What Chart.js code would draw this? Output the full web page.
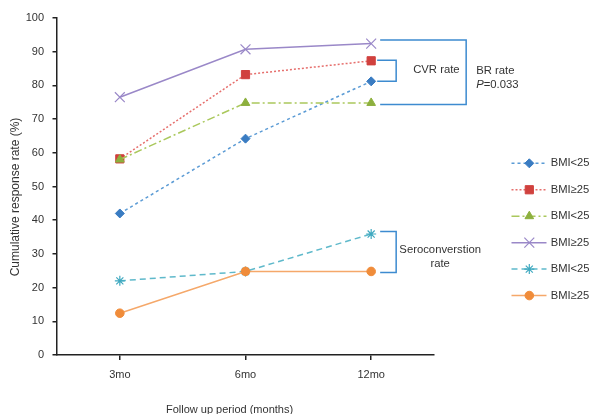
<!DOCTYPE html>
<html>
<head>
<meta charset="utf-8">
<script src="https://cdn.jsdelivr.net/npm/chart.js@4/dist/chart.umd.min.js"></script>
<style>
  html, body { margin: 0; padding: 0; background: #ffffff; }
  #wrap { width: 597px; height: 414px; }
</style>
</head>
<body>
<div id="wrap"><canvas id="c" width="597" height="414"></canvas></div>
<script>
// ---- data ----
const categories = ['3mo', '6mo', '12mo'];
const cvrBmiLow  = [42.0, 64.2, 81.2];
const cvrBmiHigh = [58.2, 83.2, 87.3];
const brBmiLow   = [58.0, 74.8, 74.8];
const brBmiHigh  = [76.5, 90.7, 92.4];
const seroBmiLow = [22.0, 24.8, 35.9];
const seroBmiHigh= [12.4, 24.8, 24.8];
const seriesLabels = ['BMI<25', 'BMI\u226525', 'BMI<25', 'BMI\u226525', 'BMI<25', 'BMI\u226525'];
const yTickValues = [0, 10, 20, 30, 40, 50, 60, 70, 80, 90, 100];
const yTitle = 'Cumulative response rate (%)';
const xTitle = 'Follow up period (months)';
const noteCVR = 'CVR rate';
const noteBR = 'BR rate';
const noteP = '0.033';
const noteSero = ['Seroconverstion', 'rate'];

const FONT = "'Liberation Sans', Arial, sans-serif";
const TXT = '#333333';
const BRACKET = '#3d8bd0';

const styles = [
  { line: '#5b9bd5', mark: '#3a7cc2', dash: [3, 3], ps: 'rectRot', r: 4.5 },
  { line: '#e66f6d', mark: '#d0413e', dash: [2, 2], ps: 'rect', r: 5.8 },
  { line: '#aac85c', mark: '#8db03e', dash: [8, 3, 2, 3], ps: 'triangle', r: 5 },
  { line: '#9a88c8', mark: '#9a88c8', dash: [], ps: 'crossRot', r: 7 },
  { line: '#5fb9cb', mark: '#3fa9c0', dash: [6, 4], ps: 'star', r: 5 },
  { line: '#f5a86a', mark: '#f08c3a', dash: [], ps: 'circle', r: 4.3 }
];
const seriesData = [cvrBmiLow, cvrBmiHigh, brBmiLow, brBmiHigh, seroBmiLow, seroBmiHigh];

const datasets = seriesData.map((d, i) => ({
  label: seriesLabels[i],
  data: d,
  borderColor: styles[i].line,
  borderWidth: 1.5,
  borderDash: styles[i].dash,
  pointStyle: styles[i].ps,
  pointRadius: styles[i].r,
  pointHoverRadius: styles[i].r,
  pointBackgroundColor: styles[i].mark,
  pointBorderColor: styles[i].mark,
  pointBorderWidth: (styles[i].ps === 'crossRot' || styles[i].ps === 'star') ? 1.2 : 1,
  fill: false,
  tension: 0,
  order: 6 - i
}));

const extras = {
  id: 'extras',
  afterDraw(chart) {
    const ctx = chart.ctx;
    const xs = chart.scales.x, ys = chart.scales.y;
    const x12 = xs.getPixelForValue(2);
    ctx.save();
    // brackets
    ctx.strokeStyle = BRACKET;
    ctx.lineWidth = 1.5;
    ctx.setLineDash([]);
    const bracket = (x0, x1, yTop, yBot) => {
      ctx.beginPath();
      ctx.moveTo(x0, yTop); ctx.lineTo(x1, yTop); ctx.lineTo(x1, yBot); ctx.lineTo(x0, yBot);
      ctx.stroke();
    };
    bracket(x12 + 6, x12 + 25, ys.getPixelForValue(cvrBmiHigh[2]) - 0.5, ys.getPixelForValue(cvrBmiLow[2]));
    bracket(x12 + 9, x12 + 95, ys.getPixelForValue(brBmiHigh[2]) - 3.5, ys.getPixelForValue(brBmiLow[2]) + 1.5);
    bracket(x12 + 9, x12 + 25, ys.getPixelForValue(seroBmiLow[2]) - 2.5, ys.getPixelForValue(seroBmiHigh[2]) + 1);

    // notes
    ctx.fillStyle = TXT;
    ctx.font = '11.3px ' + FONT;
    ctx.textBaseline = 'middle';
    ctx.textAlign = 'left';
    ctx.fillText(noteCVR, x12 + 42, 69.5);
    ctx.fillText(noteBR, x12 + 105, 71);
    ctx.font = 'italic 11.3px ' + FONT;
    ctx.fillText('P', x12 + 105, 84.5);
    const pw = ctx.measureText('P').width;
    ctx.font = '11.3px ' + FONT;
    ctx.fillText('=' + noteP, x12 + 105 + pw, 84.5);
    ctx.textAlign = 'center';
    ctx.fillText(noteSero[0], x12 + 69, 250);
    ctx.fillText(noteSero[1], x12 + 69, 263.5);

    // legend
    const lx0 = 511.5, lx1 = 546.5, lmx = 529.3, ltx = 550.7;
    chart.data.datasets.forEach((ds, i) => {
      const y = 163.3 + i * 26.45;
      ctx.strokeStyle = ds.borderColor;
      ctx.lineWidth = 1.5;
      ctx.setLineDash(ds.borderDash);
      ctx.beginPath(); ctx.moveTo(lx0, y); ctx.lineTo(lx1, y); ctx.stroke();
      ctx.setLineDash([]);
      ctx.fillStyle = ds.pointBackgroundColor;
      ctx.strokeStyle = ds.pointBorderColor;
      ctx.lineWidth = ds.pointBorderWidth;
      Chart.helpers.drawPoint(ctx, { pointStyle: ds.pointStyle, radius: ds.pointRadius, rotation: 0, borderWidth: ds.pointBorderWidth }, lmx, y);
      ctx.fillStyle = TXT;
      ctx.font = '11.2px ' + FONT;
      ctx.textAlign = 'left';
      ctx.textBaseline = 'middle';
      ctx.fillText(ds.label, ltx, y);
    });

    // axis titles
    ctx.fillStyle = TXT;
    ctx.font = '11px ' + FONT;
    ctx.textAlign = 'center';
    ctx.textBaseline = 'middle';
    ctx.fillText(xTitle, 229.5, 409.5);
    ctx.save();
    ctx.translate(15.5, 197);
    ctx.rotate(-Math.PI / 2);
    ctx.font = '12px ' + FONT;
    ctx.fillText(yTitle, 0, 0);
    ctx.restore();
    ctx.restore();
  }
};

new Chart(document.getElementById('c'), {
  type: 'line',
  data: { labels: categories, datasets },
  options: {
    responsive: false,
    devicePixelRatio: 1,
    animation: false,
    events: [],
    layout: { padding: { left: 0, top: 18, right: 163, bottom: 0 } },
    plugins: { legend: { display: false }, tooltip: { enabled: false }, title: { display: false } },
    scales: {
      x: {
        type: 'category',
        offset: true,
        afterFit(s) { s.height = 59; },
        border: { display: true, color: '#222222', width: 1.5 },
        grid: { display: true, drawOnChartArea: false, drawTicks: true, tickLength: 5, color: '#222222', lineWidth: 1.5 },
        ticks: { color: TXT, font: { family: FONT, size: 11 }, padding: 8, maxRotation: 0 }
      },
      y: {
        type: 'linear',
        min: 0, max: 100,
        afterFit(s) { s.width = 57; },
        afterBuildTicks(s) { s.ticks = yTickValues.map(v => ({ value: v })); },
        border: { display: true, color: '#222222', width: 1.5 },
        grid: { display: true, drawOnChartArea: false, drawTicks: true, tickLength: 4.5, color: '#222222', lineWidth: 1.5 },
        ticks: { color: TXT, font: { family: FONT, size: 11 }, padding: 8.5 }
      }
    }
  },
  plugins: [extras]
});
</script>
</body>
</html>
